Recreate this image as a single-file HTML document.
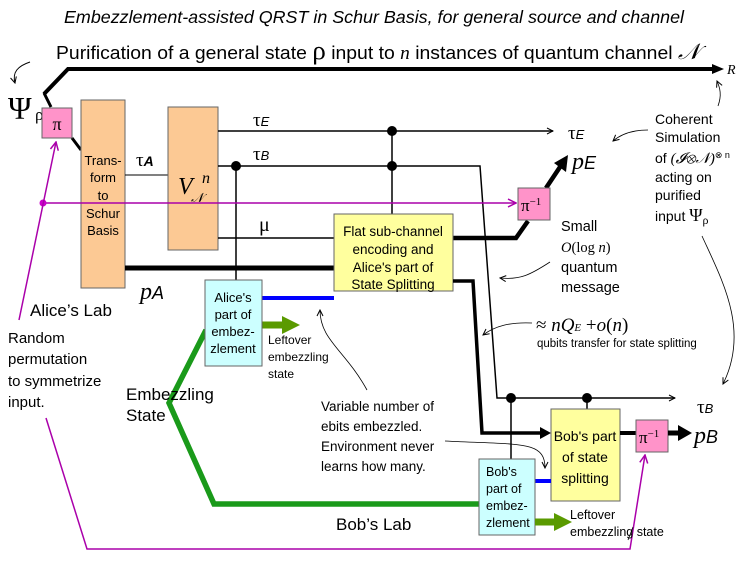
<!DOCTYPE html>
<html><head><meta charset="utf-8"><style>
html,body{margin:0;padding:0;background:#fff;}
svg{display:block;font-family:"Liberation Sans",sans-serif;}
.s{font-family:"Liberation Serif",serif;}
</style></head><body>
<svg width="747" height="561" viewBox="0 0 747 561" xmlns="http://www.w3.org/2000/svg">
<defs>
<marker id="t" markerWidth="8" markerHeight="8" refX="7" refY="4" orient="auto" markerUnits="userSpaceOnUse"><path d="M1,1 L7,4 L1,7" fill="none" stroke="#000" stroke-width="1"/></marker>
<marker id="m" markerWidth="10" markerHeight="10" refX="9" refY="5" orient="auto" markerUnits="userSpaceOnUse"><path d="M1,1 L9,5 L1,9" fill="none" stroke="#a0a" stroke-width="1.5"/></marker>
</defs>
<text x="374" y="23" font-size="17.5" font-style="italic" text-anchor="middle" textLength="620" lengthAdjust="spacingAndGlyphs">Embezzlement-assisted QRST in Schur Basis, for general source and channel</text>
<text x="56" y="59" font-size="18.5" textLength="644" lengthAdjust="spacingAndGlyphs">Purification of a general state <tspan class="s" font-size="26">ρ</tspan> input to <tspan class="s" font-style="italic">n</tspan>  instances of quantum channel <tspan class="s" font-style="italic" font-size="22">𝒩</tspan></text>
<path d="M44,94 L68,69 L718,69" fill="none" stroke="#000" stroke-width="4"/>
<path d="M712,64 L724,69 L712,74z"/>
<text x="727" y="74" font-size="14" font-style="italic" class="s">R</text>
<path d="M30,62 C18,66 12,72 15,83" fill="none" stroke="#000" stroke-width="1" marker-end="url(#t)"/>
<text x="8" y="119" font-size="32" class="s">Ψ</text><text x="35" y="120" font-size="17" class="s">ρ</text>
<path d="M44,93 L51,107 M72,138 L81,150" stroke="#000" stroke-width="3"/>
<rect x="81" y="100" width="44" height="188" fill="#fcc994" stroke="#666"/>
<g font-size="13" text-anchor="middle"><text x="103" y="165">Trans-</text><text x="103" y="182">form</text><text x="103" y="200">to</text><text x="103" y="218">Schur</text><text x="103" y="235">Basis</text></g>
<line x1="125" y1="175" x2="168" y2="175" stroke="#000"/>
<text x="136" y="166" font-size="19" class="s">τ<tspan font-size="14" font-weight="bold" font-family="Liberation Sans" font-style="italic">A</tspan></text>
<rect x="168" y="107" width="50" height="143" fill="#fcc994" stroke="#666"/>
<text x="178" y="194" font-size="24" font-style="italic" class="s">V</text><text x="191" y="202" font-size="13" font-style="italic" class="s">𝒩</text><text x="202" y="183" font-size="16" font-style="italic" class="s">n</text>
<line x1="218" y1="131" x2="553" y2="131" stroke="#000" stroke-width="1.5" marker-end="url(#t)"/>
<text x="253" y="126" font-size="19" class="s">τ<tspan font-size="13" font-style="italic" font-family="Liberation Sans">E</tspan></text>
<text x="568" y="139" font-size="19" class="s">τ<tspan font-size="13" font-style="italic" font-family="Liberation Sans">E</tspan></text>
<path d="M218,166 L480,166 L497,398 L675,398" fill="none" stroke="#000" stroke-width="1.5" marker-end="url(#t)"/>
<text x="253" y="160" font-size="19" class="s">τ<tspan font-size="13" font-style="italic" font-family="Liberation Sans">B</tspan></text>
<text x="697" y="413" font-size="19" class="s">τ<tspan font-size="13" font-style="italic" font-family="Liberation Sans">B</tspan></text>
<line x1="236" y1="166" x2="236" y2="280" stroke="#000" stroke-width="1.5"/>
<circle cx="236" cy="166" r="5"/>
<line x1="392" y1="131" x2="392" y2="214" stroke="#000" stroke-width="1.5"/>
<circle cx="392" cy="131" r="5"/><circle cx="392" cy="166" r="5"/>
<line x1="218" y1="238" x2="334" y2="238" stroke="#000" stroke-width="1.5"/>
<text x="259" y="231" font-size="20" class="s">μ</text>
<line x1="125" y1="268" x2="334" y2="268" stroke="#000" stroke-width="5"/>
<text x="140" y="299" font-size="24" font-style="italic" class="s">p<tspan font-size="18" font-family="Liberation Sans">A</tspan></text>
<line x1="42" y1="203" x2="516" y2="203" stroke="#a0a" stroke-width="1.5" marker-end="url(#m)"/>
<circle cx="43" cy="203" r="3.5" fill="#c0c"/>
<path d="M453,238 L516,238 L528,221" fill="none" stroke="#000" stroke-width="4.5"/>
<path d="M546,188 L562,164" stroke="#000" stroke-width="4.5"/>
<path d="M568,155 L566,172 L554,163z"/>
<text x="572" y="169" font-size="24" font-style="italic" class="s">p<tspan font-size="18" font-family="Liberation Sans">E</tspan></text>
<rect x="518" y="188" width="32" height="32" fill="#ff93c9" stroke="#666"/>
<text x="521" y="211" font-size="17" class="s">π<tspan font-size="11" dy="-6">−1</tspan></text>
<rect x="42" y="108" width="30" height="30" fill="#ff93c9" stroke="#666"/>
<text x="57" y="130" font-size="18" text-anchor="middle" class="s">π</text>
<rect x="334" y="214" width="119" height="77" fill="#ffff9e" stroke="#666"/>
<g font-size="13.5" text-anchor="middle"><text x="393" y="236">Flat sub-channel</text><text x="393" y="254">encoding and</text><text x="393" y="272">Alice's part of</text><text x="393" y="289">State Splitting</text></g>
<path d="M453,281 L473,281 L482,433 L545,433" fill="none" stroke="#000" stroke-width="3.5"/>
<path d="M540,427 L551,433 L540,439z"/>
<text x="30" y="316" font-size="17">Alice’s Lab</text>
<line x1="262" y1="298" x2="334" y2="298" stroke="#00f" stroke-width="4"/>
<path d="M262,325 L284,325" stroke="#5a9a00" stroke-width="7"/><path d="M282,316 L300,325 L282,334z" fill="#5a9a00"/>
<path d="M206,330 L169,403 L214,504 L479,504" fill="none" stroke="#1a9a1a" stroke-width="5.5"/>
<rect x="205" y="280" width="57" height="86" fill="#ccffff" stroke="#666"/>
<g font-size="13" text-anchor="middle"><text x="233" y="302">Alice's</text><text x="233" y="319">part of</text><text x="233" y="336">embez-</text><text x="233" y="353">zlement</text></g>
<g font-size="12"><text x="268" y="344">Leftover</text><text x="268" y="361">embezzling</text><text x="268" y="378">state</text></g>
<g font-size="17"><text x="126" y="400">Embezzling</text><text x="126" y="421">State</text></g>
<g font-size="15"><text x="8" y="343">Random</text><text x="8" y="364">permutation</text><text x="8" y="386">to symmetrize</text><text x="8" y="407">input.</text></g>
<path d="M19,320 L56,142" stroke="#a0a" stroke-width="1.5" marker-end="url(#m)"/>
<path d="M46,418 L87,549 L630,549 L645,455" fill="none" stroke="#a0a" stroke-width="1.5" marker-end="url(#m)"/>
<line x1="511" y1="398" x2="511" y2="459" stroke="#000" stroke-width="1.5"/>
<line x1="587" y1="398" x2="587" y2="409" stroke="#000" stroke-width="1.5"/>
<circle cx="511" cy="398" r="5"/><circle cx="587" cy="398" r="5"/>
<rect x="551" y="409" width="69" height="92" fill="#ffff9e" stroke="#666"/>
<g font-size="14" text-anchor="middle"><text x="585" y="441">Bob's part</text><text x="585" y="462">of state</text><text x="585" y="483">splitting</text></g>
<line x1="620" y1="433" x2="636" y2="433" stroke="#000" stroke-width="4"/>
<rect x="636" y="420" width="32" height="32" fill="#ff93c9" stroke="#666"/>
<text x="639" y="443" font-size="17" class="s">π<tspan font-size="11" dy="-6">−1</tspan></text>
<path d="M668,433 L680,433" stroke="#000" stroke-width="5"/><path d="M678,425 L692,433 L678,441z"/>
<text x="694" y="443" font-size="24" font-style="italic" class="s">p<tspan font-size="18" font-family="Liberation Sans">B</tspan></text>
<line x1="535" y1="481" x2="551" y2="481" stroke="#00f" stroke-width="4"/>
<rect x="479" y="459" width="56" height="76" fill="#ccffff" stroke="#666"/>
<g font-size="12.5"><text x="486" y="476">Bob's</text><text x="486" y="493">part of</text><text x="486" y="510">embez-</text><text x="486" y="527">zlement</text></g>
<path d="M535,522 L556,522" stroke="#5a9a00" stroke-width="7"/><path d="M554,513 L572,522 L554,531z" fill="#5a9a00"/>
<g font-size="12.5"><text x="570" y="519">Leftover</text><text x="570" y="536">embezzling  state</text></g>
<path d="M633,527 L628,540" stroke="#000" stroke-width="0.8"/>
<text x="336" y="530" font-size="17">Bob’s Lab</text>
<g font-size="13.5"><text x="321" y="411">Variable number of</text><text x="321" y="431">ebits embezzled.</text><text x="321" y="451">Environment never</text><text x="321" y="471">learns how many.</text></g>
<path d="M367,390 C345,350 320,340 320,310" fill="none" stroke="#000" stroke-width="0.8" marker-end="url(#t)"/>
<path d="M445,441 C520,445 545,440 545,468" fill="none" stroke="#000" stroke-width="0.8" marker-end="url(#t)"/>
<g font-size="14.5"><text x="561" y="231">Small</text><text x="561" y="252" class="s" font-style="italic">O<tspan font-style="normal">(log </tspan>n<tspan font-style="normal">)</tspan></text><text x="561" y="272">quantum</text><text x="561" y="292">message</text></g>
<path d="M550,262 C530,275 520,280 500,278" fill="none" stroke="#000" stroke-width="0.8" marker-end="url(#t)"/>
<text x="536" y="331" font-size="19" class="s">≈ <tspan font-style="italic">nQ</tspan><tspan font-size="11" font-style="italic">E</tspan> +<tspan font-style="italic">o</tspan>(<tspan font-style="italic">n</tspan>)</text>
<text x="537" y="347" font-size="11.5">qubits transfer for state splitting</text>
<path d="M532,323 C510,322 495,326 483,335" fill="none" stroke="#000" stroke-width="0.8" marker-end="url(#t)"/>
<g font-size="14"><text x="655" y="124">Coherent</text><text x="655" y="142">Simulation</text><text x="655" y="163">of <tspan class="s" font-style="italic" font-size="15">(𝓘⊗𝒩)</tspan><tspan font-size="9" dy="-5">⊗ n</tspan></text><text x="655" y="182">acting on</text><text x="655" y="200">purified</text><text x="655" y="221">input <tspan class="s" font-size="18">Ψ</tspan><tspan class="s" font-size="12" dy="3">ρ</tspan></text></g>
<path d="M718,106 C722,95 720,88 717,81" fill="none" stroke="#000" stroke-width="0.8" marker-end="url(#t)"/>
<path d="M648,130 C630,130 620,135 613,141" fill="none" stroke="#000" stroke-width="0.8" marker-end="url(#t)"/>
<path d="M702,236 C722,280 750,330 723,384" fill="none" stroke="#000" stroke-width="0.8" marker-end="url(#t)"/>
</svg>
</body></html>
